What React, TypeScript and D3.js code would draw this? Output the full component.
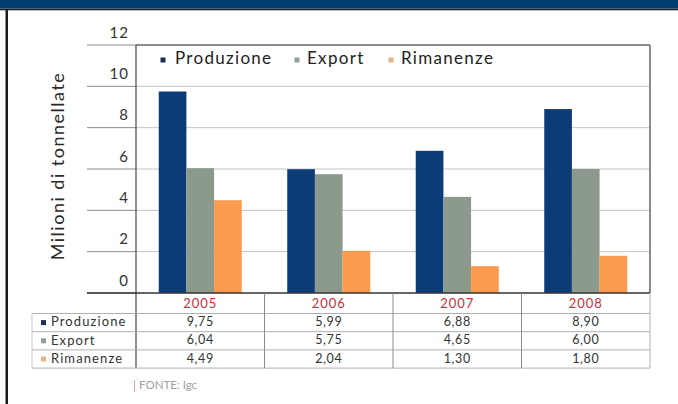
import React from "react";
import * as d3 from "d3";

const years = ["2005", "2006", "2007", "2008"];
const seriesNames = ["Produzione", "Export", "Rimanenze"];
const produzione = [9.75, 5.99, 6.88, 8.9];
const exportVals = [6.04, 5.75, 4.65, 6.0];
const rimanenze = [4.49, 2.04, 1.3, 1.8];
const tableLabels = [
  ["9,75", "5,99", "6,88", "8,90"],
  ["6,04", "5,75", "4,65", "6,00"],
  ["4,49", "2,04", "1,30", "1,80"],
];
const yTicks = [0, 2, 4, 6, 8, 10, 12];
const yTitle = "Milioni di tonnellate";
const sourceText = "FONTE: Igc";

const colors = ["#0c3c78", "#8c9a8e", "#f99a4e"];
const markerColors = ["#1a2f55", "#8fa39a", "#e8b48e"];

export default function App() {
  const W = 678, H = 404;
  const left = 136, right = 650, top = 45, bottom = 293;
  const seriesData = [produzione, exportVals, rimanenze];
  const x = d3.scaleBand<string>().domain(years).range([left, right]).paddingInner(0.354).paddingOuter(0.177);
  const xCol = d3.scaleBand<string>().domain(years).range([left, right]);
  const xs = d3.scaleBand<string>().domain(seriesNames).range([0, x.bandwidth()]);
  const y = d3.scaleLinear().domain([0, 12]).range([bottom, top]);
  const font = "Lato, 'Open Sans', sans-serif";
  const headerH = 20.5;
  const rowH = 18.2;
  const tableTop = bottom;
  const rowY = (i: number) => tableTop + headerH + i * rowH;
  const tableBottom = rowY(3);
  const labelLeft = 32;
  const legendX = [163, 297, 391];

  return (
    <div style={{ position: "absolute", left: 0, top: 0, width: W, height: H, overflow: "hidden" }}>
      <svg width={W} height={H} style={{ display: "block", background: "#fff" }}>
        <rect x={0} y={0} width={W} height={8.5} fill="#003d72" />
        <rect x={0} y={8.5} width={W} height={1.8} fill="#1c2430" />
        <rect x={5.5} y={9} width={2.5} height={H} fill="#1c1c1c" />

        {/* gridlines */}
        {yTicks.map((t) => (
          <g key={t}>
            <line x1={87} x2={left} y1={y(t)} y2={y(t)} stroke="#8a8a8a" strokeWidth={1} />
            {t > 0 && t < 12 && (
              <line x1={left} x2={right} y1={y(t)} y2={y(t)} stroke="#c4c4c4" strokeWidth={1} />
            )}
            <text
              x={129}
              y={y(t) - 11}
              textAnchor="end"
              dominantBaseline="middle"
              fontFamily={font}
              fontSize={15}
              letterSpacing={1}
              fill="#333"
            >
              {t}
            </text>
          </g>
        ))}
        {/* plot border */}
        <line x1={left} x2={right} y1={top} y2={top} stroke="#8c8c8c" strokeWidth={2} />
        <line x1={right} x2={right} y1={top} y2={bottom} stroke="#8c8c8c" strokeWidth={2} />

        {/* bars */}
        {seriesData.map((vals, si) =>
          vals.map((v, i) => (
            <rect
              key={`${si}-${i}`}
              x={(x(years[i]) as number) + (xs(seriesNames[si]) as number)}
              y={y(v)}
              width={xs.bandwidth()}
              height={y(0) - y(v)}
              fill={colors[si]}
            />
          ))
        )}

        {/* axes */}
        <line x1={left} x2={left} y1={top} y2={tableBottom} stroke="#444" strokeWidth={1.2} />
        <line x1={87} x2={right} y1={bottom} y2={bottom} stroke="#333" strokeWidth={1.5} />

        {/* legend */}
        {seriesNames.map((s, i) => (
          <g key={s}>
            <rect x={legendX[i] - 2.5} y={57.5} width={5} height={5} fill={markerColors[i]} />
            <text
              x={legendX[i] + (i === 0 ? 12 : 10)}
              y={60}
              dominantBaseline="middle"
              fontFamily={font}
              fontSize={17}
              letterSpacing={1.3}
              fill="#222"
            >
              {s}
            </text>
          </g>
        ))}

        {/* y title */}
        <text
          transform={`translate(59,166) rotate(-90)`}
          textAnchor="middle"
          dominantBaseline="middle"
          fontFamily={font}
          fontSize={18}
          letterSpacing={1.5}
          fill="#2a2a2a"
        >
          {yTitle}
        </text>

        {/* table */}
        {[0, 1, 2, 3].map((r) => (
          <line key={r} x1={labelLeft} x2={right} y1={rowY(r)} y2={rowY(r)} stroke="#b0b0b0" strokeWidth={1} />
        ))}
        <line x1={labelLeft} x2={labelLeft} y1={rowY(0)} y2={tableBottom} stroke="#c8c8c8" strokeWidth={1} />
        {years.map((yr, i) => (
          <line
            key={yr}
            x1={(xCol(yr) as number) + xCol.bandwidth()}
            x2={(xCol(yr) as number) + xCol.bandwidth()}
            y1={bottom}
            y2={tableBottom}
            stroke={i === 3 ? "#b0b0b0" : "#8a8a8a"}
            strokeWidth={1}
          />
        ))}
        {years.map((yr) => (
          <text
            key={yr}
            x={(xCol(yr) as number) + xCol.bandwidth() / 2}
            y={tableTop + headerH / 2 + 1}
            textAnchor="middle"
            dominantBaseline="middle"
            fontFamily={font}
            fontSize={13}
            letterSpacing={1}
            fill="#d42a3c"
          >
            {yr}
          </text>
        ))}
        {seriesNames.map((s, r) => (
          <g key={s}>
            <rect x={41} y={rowY(r) + rowH / 2 - 2.5} width={5} height={5} fill={markerColors[r]} />
            <text
              x={51}
              y={rowY(r) + rowH / 2 + 0.5}
              dominantBaseline="middle"
              fontFamily={font}
              fontSize={13}
              letterSpacing={1.1}
              fill="#333"
            >
              {s}
            </text>
            {tableLabels[r].map((lbl, i) => (
              <text
                key={i}
                x={(xCol(years[i]) as number) + xCol.bandwidth() / 2}
                y={rowY(r) + rowH / 2 + 0.5}
                textAnchor="middle"
                dominantBaseline="middle"
                fontFamily={font}
                fontSize={12.5}
                letterSpacing={0.6}
                fill="#333"
              >
                {lbl}
              </text>
            ))}
          </g>
        ))}

        {/* source */}
        <line x1={134.5} x2={134.5} y1={380} y2={392} stroke="#e0a0a8" strokeWidth={1} />
        <text x={139} y={386} dominantBaseline="middle" fontFamily={font} fontSize={11.5} fill="#a0a0a0">
          {sourceText}
        </text>
      </svg>
    </div>
  );
}
